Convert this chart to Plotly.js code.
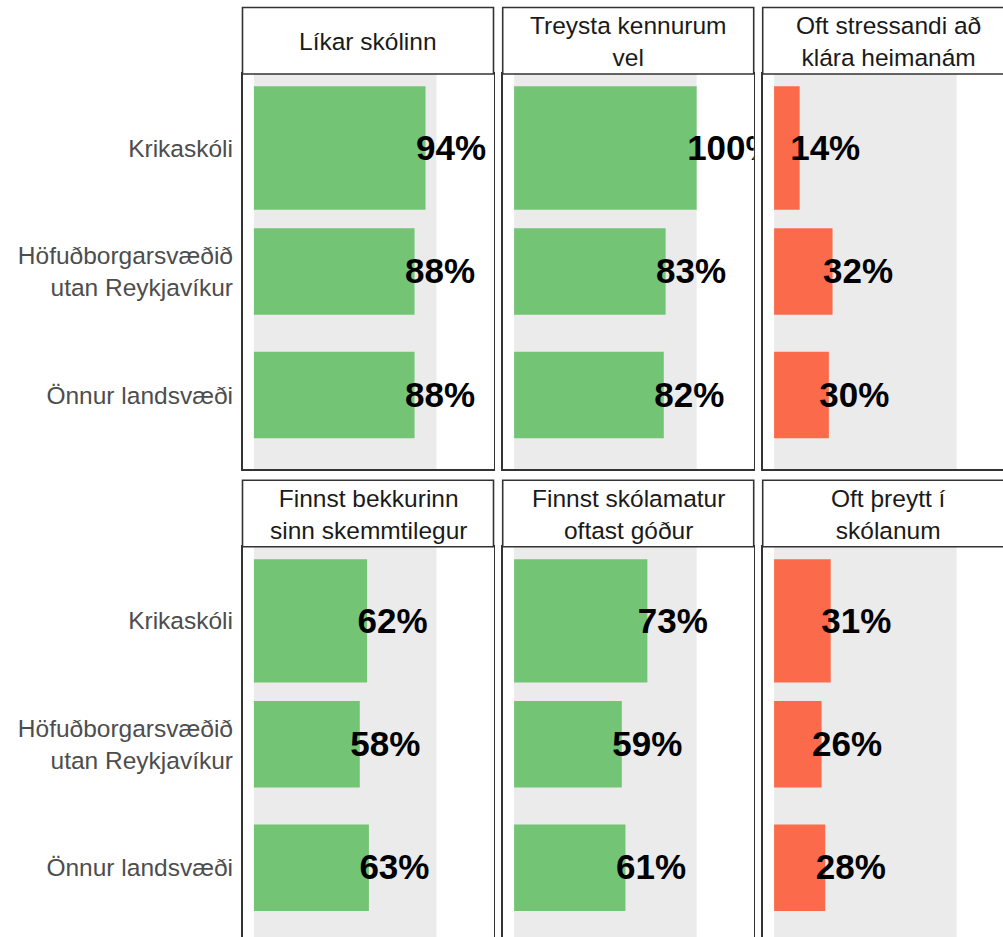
<!DOCTYPE html>
<html>
<head>
<meta charset="utf-8">
<script src="https://cdn.plot.ly/plotly-3.0.1.min.js"></script>
<style>
html, body { margin:0; padding:0; width:1003px; height:937px; overflow:hidden; background:#fff; }
#chart { width:1020px; height:960px; }
</style>
</head>
<body>
<div id="chart"></div>
<script>
// ---- data ----
const categories = ['Krikaskóli', 'Höfuðborgarsvæðið<br>utan Reykjavíkur', 'Önnur landsvæði'];
const panelTitles = [
  'Líkar skólinn',
  'Treysta kennurum<br>vel',
  'Oft stressandi að<br>klára heimanám',
  'Finnst bekkurinn<br>sinn skemmtilegur',
  'Finnst skólamatur<br>oftast góður',
  'Oft þreytt í<br>skólanum'
];
const likarSkolinn      = [94, 88, 88];
const treystaKennurum   = [100, 83, 82];
const oftStressandi     = [14, 32, 30];
const finnstBekkurinn   = [62, 58, 63];
const finnstSkolamatur  = [73, 59, 61];
const oftThreytt        = [31, 26, 28];
const panelValues = [likarSkolinn, treystaKennurum, oftStressandi, finnstBekkurinn, finnstSkolamatur, oftThreytt];
const panelPositive = [true, true, false, true, true, false];
const fullScale = 100;

// ---- styles / geometry ----
const W = 1020, H = 960;
const GREEN = '#74C476', RED = '#FB6A4A', BAND = '#EBEBEB', BORDER = '#333333';
const FONT = 'Liberation Sans, Arial, Helvetica, sans-serif';
const barWidths = [1.0, 0.7, 0.7];
const colLeft = [242.5, 502.7, 762.7];
const panelW = 251;
const stripTop = [7.5, 480.3];
const stripH = 66.5;
const plotH = 395;
const xRange = [-6.25, 131.25];
const yRange = [2.6, -0.6];
const pxPerUnit = panelW / (xRange[1] - xRange[0]);
const pxPerCat = plotH / (yRange[0] - yRange[1]);
const labelShiftPx = 9.5;
const labelDropPx = 3;

const px = v => v / W;
const py = v => 1 - v / H;

const traces = [];
const layout = {
  width: W, height: H,
  margin: {l:0, r:0, t:0, b:0},
  paper_bgcolor: '#ffffff',
  plot_bgcolor: '#ffffff',
  showlegend: false,
  shapes: [],
  annotations: [],
  font: {family: FONT}
};

panelValues.forEach((vals, i) => {
  const row = Math.floor(i / 3), col = i % 3;
  const n = i === 0 ? '' : String(i + 1);
  const xa = 'x' + n, ya = 'y' + n;
  const left = colLeft[col];
  const sTop = stripTop[row];
  const pTop = sTop + stripH;

  layout['xaxis' + n] = {
    domain: [px(left), px(left + panelW)],
    range: xRange,
    anchor: ya,
    showgrid: false, zeroline: false, showticklabels: false, ticks: '',
    showline: true, mirror: true, linecolor: BORDER, linewidth: 1.6,
    fixedrange: true
  };
  layout['yaxis' + n] = {
    domain: [py(pTop + plotH), py(pTop)],
    range: yRange,
    anchor: xa,
    tickmode: 'array',
    tickvals: categories.map((c, k) => k),
    ticktext: categories,
    showticklabels: col === 0,
    ticks: '',
    ticklabelstandoff: 3,
    tickfont: {family: FONT, size: 24.5, color: '#4D4D4D'},
    showgrid: false, zeroline: false,
    showline: true, mirror: true, linecolor: BORDER, linewidth: 1.6,
    fixedrange: true
  };

  // grey 0-100% band
  layout.shapes.push({
    type: 'rect', xref: xa, yref: ya + ' domain',
    x0: 0, x1: fullScale, y0: 0, y1: 1,
    fillcolor: BAND, line: {width: 0}, layer: 'below'
  });

  // strip box
  layout.shapes.push({
    type: 'rect', xref: 'paper', yref: 'paper',
    x0: px(left), x1: px(left + panelW), y0: py(pTop), y1: py(sTop),
    fillcolor: '#ffffff', line: {color: BORDER, width: 1.6}, layer: 'above'
  });
  layout.annotations.push({
    xref: 'paper', yref: 'paper',
    x: px(left + panelW / 2), y: py(sTop + stripH / 2 + 1),
    xanchor: 'center', yanchor: 'middle',
    text: panelTitles[i], showarrow: false,
    font: {family: FONT, size: 24.5, color: '#1A1A1A'}
  });

  traces.push({
    type: 'bar', orientation: 'h',
    x: vals, y: categories.map((c, k) => k),
    width: barWidths,
    marker: {color: panelPositive[i] ? GREEN : RED, line: {width: 0}},
    xaxis: xa, yaxis: ya, hoverinfo: 'skip'
  });
  traces.push({
    type: 'scatter', mode: 'text',
    x: vals.map(v => v - labelShiftPx / pxPerUnit),
    y: categories.map((c, k) => k + labelDropPx / pxPerCat),
    text: vals.map(v => v + '%'),
    textposition: 'middle right',
    textfont: {family: FONT, size: 35, color: '#000000', weight: 'bold'},
    cliponaxis: true,
    xaxis: xa, yaxis: ya, hoverinfo: 'skip'
  });
});

Plotly.newPlot('chart', traces, layout, {displayModeBar: false, staticPlot: true});
</script>
</body>
</html>
